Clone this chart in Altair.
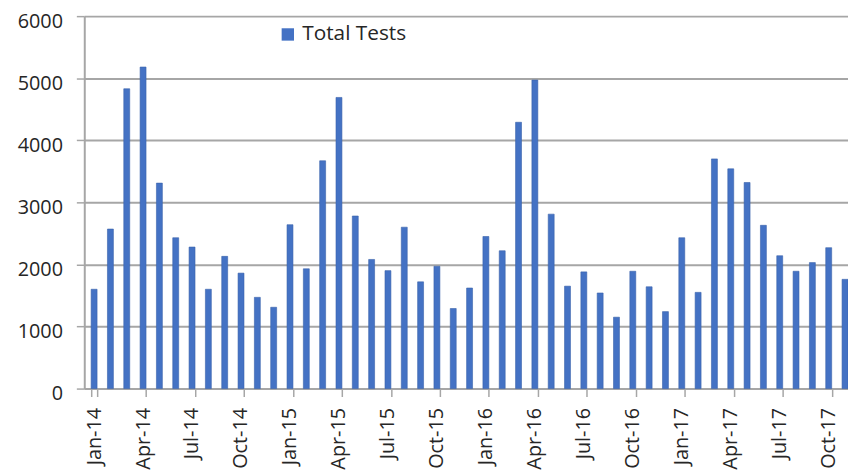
import altair as alt
import pandas as pd

months = ["Jan", "Feb", "Mar", "Apr", "May", "Jun", "Jul", "Aug", "Sep", "Oct", "Nov", "Dec"]
labels = [f"{m}-{y}" for y in ["14", "15", "16", "17"] for m in months][:47]
values = [1600, 2570, 4830, 5180, 3310, 2430, 2280, 1600, 2130, 1860, 1470, 1310,
          2640, 1930, 3670, 4690, 2780, 2080, 1900, 2600, 1720, 1970, 1290, 1620,
          2450, 2220, 4290, 4970, 2810, 1650, 1880, 1540, 1150, 1890, 1640, 1240,
          2430, 1550, 3700, 3540, 3320, 2630, 2140, 1890, 2030, 2270, 1760]
tick_labels = labels[::3]
y_ticks = [0, 1000, 2000, 3000, 4000, 5000, 6000]

df = pd.DataFrame({"month": labels, "tests": values, "series": "Total Tests"})

font = "Open Sans"
gray = "#a6a6a6"
txt = "#262626"

chart = alt.Chart(df).mark_bar(color="#4472C4", stroke="#3a62ab", strokeWidth=0.6).encode(
    x=alt.X("month:O", sort=labels,
            scale=alt.Scale(paddingInner=0.636, paddingOuter=0.21, align=1),
            axis=alt.Axis(title=None, values=tick_labels, labelAngle=270, labelAlign="right",
                          labelBaseline="middle", labelFontSize=20, labelFont=font,
                          labelColor=txt, tickBand="extent", tickColor=gray, tickWidth=1.5,
                          tickSize=8, labelPadding=11, domainColor=gray, domainWidth=2)),
    y=alt.Y("tests:Q", scale=alt.Scale(domain=[0, 6000]),
            axis=alt.Axis(title=None, values=y_ticks, format="d",
                          labelFontSize=20, labelFont=font, labelColor=txt, labelOffset=5,
                          gridColor=gray, gridWidth=2, tickColor=gray, tickSize=8,
                          tickWidth=1.5, labelPadding=14, domainColor=gray, domainWidth=2)),
    color=alt.Color("series:N", scale=alt.Scale(range=["#4472C4"]),
                    legend=alt.Legend(title=None, orient="none", legendX=195, legendY=8,
                                      symbolType="square", symbolSize=156,
                                      symbolStrokeWidth=0, labelFontSize=21,
                                      labelFont=font, labelColor=txt)),
).properties(
    width=771, height=376,
    autosize=alt.AutoSizeParams(type="none"),
    padding={"left": 77, "top": 6, "right": 0, "bottom": 82},
).configure_view(stroke=None)

chart.save("out.html", embed_options={"renderer": "svg", "actions": False})
